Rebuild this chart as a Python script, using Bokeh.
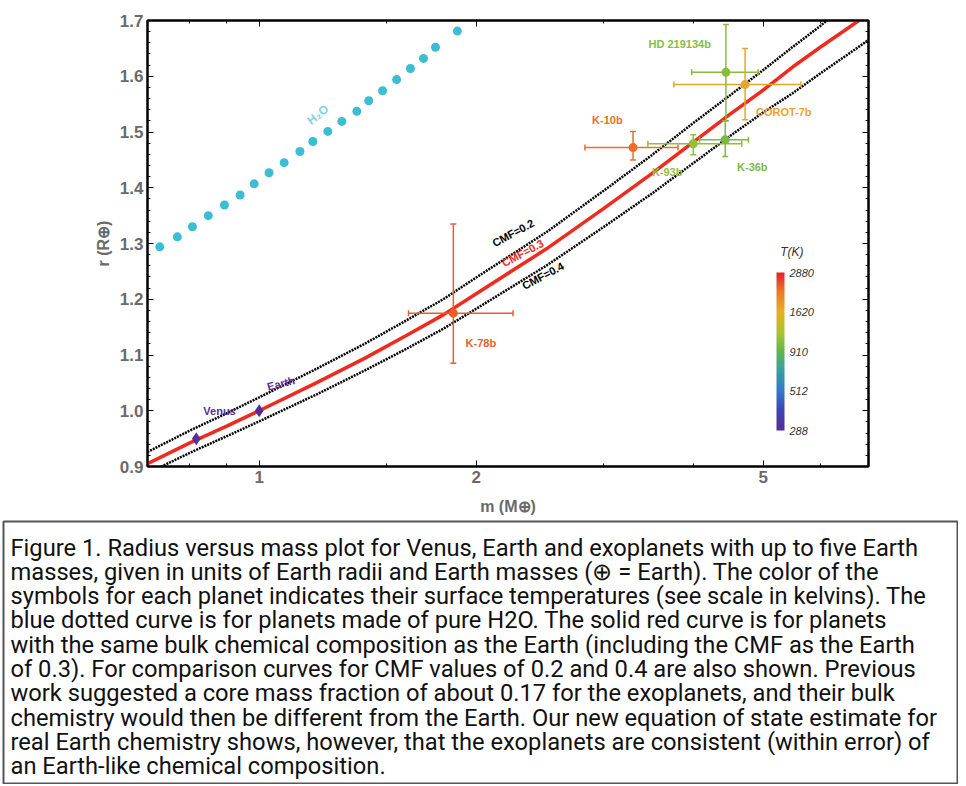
import numpy as np
from bokeh.plotting import figure
from bokeh.models import (ColumnDataSource, LogAxis, LinearAxis, FixedTicker,
                          LogColorMapper, ColorBar, Range1d, NumeralTickFormatter,
                          CustomJSTickFormatter)
from bokeh.layouts import column
from bokeh.transform import log_cmap
from bokeh.core.properties import value
from bokeh.embed import file_html
from bokeh.resources import INLINE

# ---------------- data ----------------
curve_m = [0.7, 0.8, 0.9, 1.0, 1.2, 1.4, 1.6, 1.8, 2.0, 2.5, 3.0, 3.5, 4.0, 4.5, 5.0, 5.5, 6.0, 6.5, 7.0]
r_cmf02 = [0.926, 0.964, 0.995, 1.024, 1.075, 1.120, 1.162, 1.200, 1.239, 1.320, 1.394, 1.458,
           1.516, 1.566, 1.611, 1.653, 1.690, 1.728, 1.760]
r_cmf03 = [0.905, 0.942, 0.972, 1.000, 1.050, 1.094, 1.135, 1.172, 1.210, 1.290, 1.362, 1.425,
           1.482, 1.532, 1.575, 1.617, 1.652, 1.683, 1.712]
r_cmf04 = [0.888, 0.924, 0.954, 0.981, 1.029, 1.072, 1.111, 1.147, 1.183, 1.260, 1.329, 1.389,
           1.444, 1.493, 1.535, 1.570, 1.605, 1.636, 1.665]

h2o_m = [0.728, 0.770, 0.808, 0.850, 0.895, 0.941, 0.984, 1.032, 1.083, 1.139, 1.187, 1.245,
         1.302, 1.366, 1.419, 1.483, 1.551, 1.621, 1.690, 1.756, 1.883]
h2o_r = [1.294, 1.312, 1.330, 1.350, 1.369, 1.387, 1.407, 1.427, 1.445, 1.465, 1.483, 1.501,
         1.519, 1.537, 1.556, 1.574, 1.594, 1.614, 1.632, 1.652, 1.681]

planet_names = ["Venus", "Earth", "K-78b", "K-10b", "K-93b", "K-36b", "HD 219134b", "COROT-7b"]
planet_m = [0.818, 1.000, 1.859, 3.30, 4.00, 4.43, 4.44, 4.72]
planet_r = [0.950, 1.000, 1.175, 1.472, 1.479, 1.486, 1.607, 1.585]
planet_m_lo = [0.818, 1.000, 1.611, 2.83, 3.46, 4.08, 3.98, 3.76]
planet_m_hi = [0.818, 1.000, 2.249, 3.81, 4.67, 4.77, 4.92, 5.64]
planet_r_lo = [0.950, 1.000, 1.085, 1.450, 1.459, 1.456, 1.520, 1.522]
planet_r_hi = [0.950, 1.000, 1.335, 1.501, 1.495, 1.520, 1.693, 1.650]
planet_T = [300, 288, 2350, 2250, 1100, 1000, 1050, 1700]

cb_ticks = [288, 512, 910, 1620, 2880]
x_major = [1, 2, 5]
x_minor = [0.8, 0.9, 1.5, 3, 4, 6]
y_major = [0.9, 1.0, 1.1, 1.2, 1.3, 1.4, 1.5, 1.6, 1.7]
y_minor = [round(0.9 + 0.02 * i, 2) for i in range(41)]

caption_lines = [
    "Figure 1. Radius versus mass plot for Venus, Earth and exoplanets with up to five Earth",
    "masses, given in units of Earth radii and Earth masses (\u2295 = Earth). The color of the",
    "symbols for each planet indicates their surface temperatures (see scale in kelvins). The",
    "blue dotted curve is for planets made of pure H2O. The solid red curve is for planets",
    "with the same bulk chemical composition as the Earth (including the CMF as the Earth",
    "of 0.3). For comparison curves for CMF values of 0.2 and 0.4 are also shown. Previous",
    "work suggested a core mass fraction of about 0.17 for the exoplanets, and their bulk",
    "chemistry would then be different from the Earth. Our new equation of state estimate for",
    "real Earth chemistry shows, however, that the exoplanets are consistent (within error) of",
    "an Earth-like chemical composition.",
]

# ---------------- label placement (annotation positions) ----------------
label_m = [0.881, 1.072, 2.03, 3.04, 3.68, 4.83, 3.83, 5.34]
label_r = [1.000, 1.049, 1.121, 1.522, 1.429, 1.438, 1.657, 1.535]
label_angle = [0.0, 0.25, 0, 0, 0, 0, 0, 0]
markers = ["diamond", "diamond", "circle", "circle", "circle", "circle", "circle", "circle"]
marker_size = [13, 13, 9, 9, 9, 9, 9, 9]

# ---------------- palette ----------------
anchors = [(0.0, (88, 44, 150)), (0.13, (62, 70, 180)), (0.25, (52, 120, 200)),
           (0.38, (56, 160, 160)), (0.5, (100, 180, 80)), (0.62, (170, 195, 50)),
           (0.75, (230, 175, 40)), (0.88, (235, 120, 40)), (1.0, (225, 35, 40))]
pal = []
for i in range(256):
    t = i / 255
    for (t0, c0), (t1, c1) in zip(anchors[:-1], anchors[1:]):
        if t0 <= t <= t1:
            f = (t - t0) / (t1 - t0)
            c = [int(round(a + (b - a) * f)) for a, b in zip(c0, c1)]
            pal.append("#%02x%02x%02x" % tuple(c))
            break

cmap = log_cmap("T", pal, 288, 2880)

# ---------------- main figure ----------------
p = figure(width=960, height=520, x_axis_type="log", x_range=Range1d(0.7, 7.0),
           y_range=Range1d(0.9, 1.7), output_backend="svg", toolbar_location=None,
           min_border_left=147, min_border_right=92, min_border_top=20, min_border_bottom=54)
p.frame_align = False
p.grid.visible = False
p.outline_line_color = "black"
p.outline_line_width = 2
p.background_fill_color = "white"
p.border_fill_color = "white"

tick_font = "Liberation Sans"
gray = "#6a6a6a"

xa = p.xaxis[0]
xa.ticker = FixedTicker(ticks=x_major, minor_ticks=x_minor)
xa.major_label_overrides = {1: "1", 2: "2", 5: "5"}
ya = p.yaxis[0]
ya.ticker = FixedTicker(ticks=y_major, minor_ticks=y_minor)
ya.formatter = NumeralTickFormatter(format="0.0")
xa.axis_label = "m (M\u2295)"
ya.axis_label = "r (R\u2295)"

blank = CustomJSTickFormatter(code="return '';")
top = LogAxis(ticker=FixedTicker(ticks=x_major, minor_ticks=x_minor), formatter=blank)
right = LinearAxis(ticker=FixedTicker(ticks=y_major, minor_ticks=y_minor), formatter=blank)
p.add_layout(top, "above")
p.add_layout(right, "right")

for ax in [xa, ya, top, right]:
    ax.axis_line_width = 2
    ax.axis_line_color = "black"
    ax.major_tick_in = 6
    ax.major_tick_out = 0
    ax.minor_tick_in = 3
    ax.minor_tick_out = 0
    ax.major_tick_line_color = "black"
    ax.minor_tick_line_color = "black"
    ax.major_label_text_font = tick_font
    ax.major_label_text_font_style = "bold"
    ax.major_label_text_font_size = "17px"
    ax.major_label_text_color = gray
    ax.axis_label_text_font = tick_font
    ax.axis_label_text_font_style = "bold"
    ax.axis_label_text_font_size = "16px"
    ax.axis_label_text_color = gray
    ax.major_label_standoff = 4
for ax in [top, right]:
    ax.major_label_standoff = 0
xa.axis_label_standoff = 12
ya.axis_label_standoff = 5

# curves
csrc = ColumnDataSource(dict(m=curve_m, r02=r_cmf02, r03=r_cmf03, r04=r_cmf04))
p.line("m", "r02", source=csrc, line_color="black", line_width=2.5, line_dash="2 1")
p.line("m", "r04", source=csrc, line_color="black", line_width=2.5, line_dash="2 1")
p.line("m", "r03", source=csrc, line_color="#ee2b1e", line_width=3.5)

hsrc = ColumnDataSource(dict(m=h2o_m, r=h2o_r))
p.scatter("m", "r", source=hsrc, size=9, fill_color="#3cbdd2", line_color=None)

# planets
psrc = ColumnDataSource(dict(name=planet_names, m=planet_m, r=planet_r,
                             mlo=planet_m_lo, mhi=planet_m_hi,
                             rlo=planet_r_lo, rhi=planet_r_hi, T=planet_T,
                             lm=label_m, lr=label_r, ang=label_angle,
                             marker=markers, size=marker_size))
p.segment(x0="mlo", y0="r", x1="mhi", y1="r", source=psrc, line_color=cmap, line_width=1.5)
p.segment(x0="m", y0="rlo", x1="m", y1="rhi", source=psrc, line_color=cmap, line_width=1.5)
p.scatter(x="m", y="rlo", source=psrc, marker="dash", size=6, line_color=cmap, line_width=1.5)
p.scatter(x="m", y="rhi", source=psrc, marker="dash", size=6, line_color=cmap, line_width=1.5)
p.scatter(x="mlo", y="r", source=psrc, marker="dash", angle=np.pi / 2, size=6, line_color=cmap, line_width=1.5)
p.scatter(x="mhi", y="r", source=psrc, marker="dash", angle=np.pi / 2, size=6, line_color=cmap, line_width=1.5)
p.scatter(x="m", y="r", source=psrc, marker="marker", size="size", fill_color=cmap, line_color=None)
p.text(x="lm", y="lr", text="name", angle="ang", source=psrc, text_color=cmap,
       text_font=value(tick_font), text_font_style="bold", text_font_size="11px",
       text_align="center", text_baseline="middle")

# curve labels
cl = ColumnDataSource(dict(m=[2.25, 2.32, 2.475], r=[1.319, 1.283, 1.242],
                           t=["CMF=0.2", "CMF=0.3", "CMF=0.4"],
                           c=["black", "#ee2b1e", "black"]))
p.text(x="m", y="r", text="t", text_color="c", source=cl, angle=0.49,
       text_font=value(tick_font), text_font_style="bold", text_font_size="11px",
       text_align="center", text_baseline="middle")
p.text(x=[1.206], y=[1.531], text=["H\u2082O"], angle=0.68, text_color="#7fd0e0",
       text_font=value(tick_font), text_font_style="bold", text_font_size="12px",
       text_align="center", text_baseline="middle")

# colour bar
mapper = LogColorMapper(palette=pal, low=288, high=2880)
cb = ColorBar(color_mapper=mapper, ticker=FixedTicker(ticks=cb_ticks),
              formatter=NumeralTickFormatter(format="0"),
              width=8, height=158, location=(629, 36), padding=0,
              major_label_text_font=tick_font, major_label_text_font_style="italic",
              major_label_text_font_size="11px", major_label_text_color="#333333",
              major_tick_line_color=None, bar_line_color=None, label_standoff=5,
              background_fill_alpha=0, border_line_color=None)
p.add_layout(cb, "center")
p.text(x=[5.48], y=[1.285], text=["T(K)"], text_color="#333333",
       text_font=value(tick_font), text_font_style="italic", text_font_size="12px",
       text_align="center", text_baseline="middle")

# ---------------- caption ----------------
CH = 264
c = figure(width=958, height=CH, x_range=Range1d(0, 954), y_range=Range1d(0, CH - 1),
           x_axis_type=None, y_axis_type=None, output_backend="svg", toolbar_location=None,
           min_border_left=3, min_border_right=1, min_border_top=1, min_border_bottom=0)
c.frame_align = False
c.grid.visible = False
c.outline_line_color = "#555555"
c.outline_line_width = 2
n = len(caption_lines)
ys = [CH - 1 - 26 - 24.3 * i for i in range(n)]
c.text(x=[7] * n, y=ys, text=caption_lines, text_font=value("Roboto"), text_font_size="23.7px",
       text_color="#111111", text_baseline="middle", text_align="left")

layout = column(p, c, spacing=0)
open("out.html", "w").write(file_html(layout, INLINE))
